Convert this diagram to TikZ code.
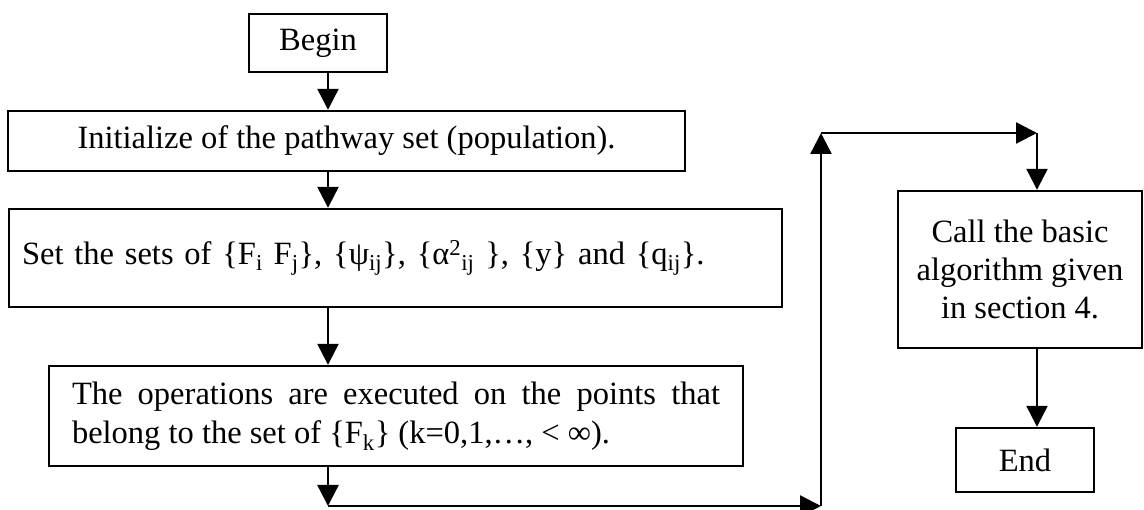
\documentclass[tikz,border=0pt]{standalone}
\usepackage{fontspec}
\setmainfont{Liberation Serif}
\usetikzlibrary{arrows.meta}
\begin{document}
\begin{tikzpicture}[x=1pt, y=-1pt, line width=2.4pt, line join=miter, >={Triangle[length=21pt,width=21pt]},
	font=\fontsize{32.5}{39}\selectfont,
	box/.style={draw, rectangle, inner sep=0pt, align=center}]
	\useasboundingbox (0,0) rectangle (1144,510);
	\node[box, minimum width=138pt, minimum height=58pt] (begin) at (318,43) {Begin};
	\node[box, minimum width=677pt, minimum height=60pt] (init) at (346.5,141) {Initialize of the pathway set (population).};
	\node[box, minimum width=773pt, minimum height=98pt, text width=747pt, align=left] (sets) at (395.5,258)
		{Set the sets of \{F\textsubscript{i} F\textsubscript{j}\}, \{ψ\textsubscript{ij}\}, \{α\textsuperscript{2}\textsubscript{ij} \}, \{y\} and \{q\textsubscript{ij}\}.};
	\node[box, minimum width=694pt, minimum height=100pt, text width=648pt, align=justify] (ops) at (396,416)
		{The operations are executed on the points that\linebreak belong to the set of \{F\textsubscript{k}\} (k=0,1,…, < ∞).};
	\node[box, minimum width=244pt, minimum height=157pt, font=\fontsize{32.5}{38}\selectfont] (call) at (1020,269.5)
		{Call the basic\\algorithm given\\in section 4.};
	\node[box, minimum width=138pt, minimum height=64pt] (endn) at (1025,460) {End};
	% connectors
	\coordinate (spine) at (328,0);
	\coordinate (c1) at (328,506);
	\coordinate (c2) at (821,506);
	\coordinate (c3) at (821,133);
	\coordinate (c4) at (1037,133);
	\draw[->] (begin.south -| spine) -- (init.north -| spine);
	\draw[->] (init.south -| spine) -- (sets.north -| spine);
	\draw[->] (sets.south -| spine) -- (ops.north -| spine);
	\draw[->] (ops.south -| spine) -- (c1);
	\draw[->] (c1) -- (c2);
	\draw[->] (c2) -- (c3);
	\draw[->] (c3) -- (c4);
	\draw[->] (c4) -- (call.north -| c4);
	\draw[->] (call.south -| c4) -- (endn.north -| c4);
\end{tikzpicture}
\end{document}
